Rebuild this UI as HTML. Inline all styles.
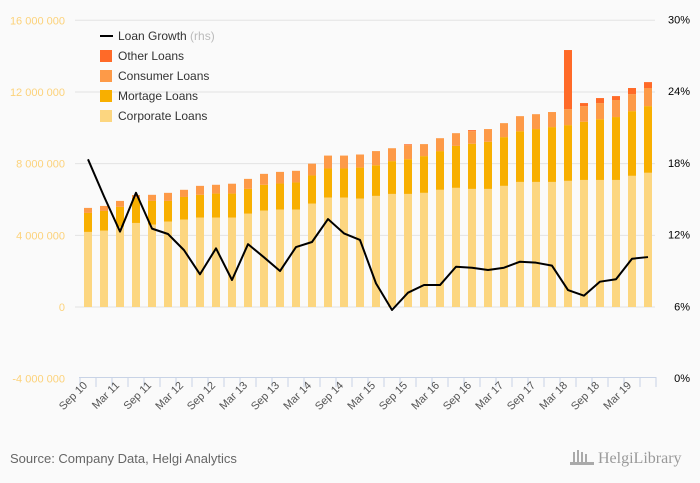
<!DOCTYPE html>
<html><head><meta charset="utf-8"><style>
body{margin:0;background:#fafafa;font-family:"Liberation Sans",sans-serif}
svg{display:block}
</style></head><body>
<svg width="700" height="483" id="c">
<rect width="700" height="483" fill="#fafafa"/>
<g id="grid"></g><g id="bars"></g><g id="axis"></g><g id="line"></g>
<g id="legend" font-size="12" fill="#333">
<line x1="100" y1="36" x2="113" y2="36" stroke="#000" stroke-width="2"/>
<text x="118" y="40">Loan Growth <tspan fill="#bbb">(rhs)</tspan></text>
<rect x="100" y="50" width="12" height="12" fill="#ff6a28"/>
<text x="118" y="60">Other Loans</text>
<rect x="100" y="70" width="12" height="12" fill="#fd9a48"/>
<text x="118" y="80">Consumer Loans</text>
<rect x="100" y="90" width="12" height="12" fill="#f8af00"/>
<text x="118" y="100">Mortage Loans</text>
<rect x="100" y="110" width="12" height="12" fill="#fcd680"/>
<text x="118" y="120">Corporate Loans</text>
</g>
<text x="10" y="463" font-size="13" fill="#666">Source: Company Data, Helgi Analytics</text>
<text x="598" y="463" font-size="16" fill="#999" font-family="Liberation Serif,serif">HelgiLibrary</text>
<g fill="#aaa"><rect x="573" y="452" width="2" height="10"/><rect x="577" y="450" width="2" height="12"/><rect x="581" y="452" width="2" height="10"/><rect x="585" y="454" width="2" height="8"/><rect x="570" y="462" width="24" height="3"/></g>
</svg>
<script>
const labels=["Sep 10","Dec 10","Mar 11","Jun 11","Sep 11","Dec 11","Mar 12","Jun 12","Sep 12","Dec 12","Mar 13","Jun 13","Sep 13","Dec 13","Mar 14","Jun 14","Sep 14","Dec 14","Mar 15","Jun 15","Sep 15","Dec 15","Mar 16","Jun 16","Sep 16","Dec 16","Mar 17","Jun 17","Sep 17","Dec 17","Mar 18","Jun 18","Sep 18","Dec 18","Mar 19","Jun 19"];
const corporate=[4.19,4.26,4.48,4.69,4.6,4.77,4.88,4.99,4.99,4.99,5.21,5.38,5.44,5.44,5.77,6.11,6.11,6.05,6.2,6.31,6.31,6.37,6.54,6.65,6.59,6.59,6.76,6.98,6.98,6.98,7.04,7.09,7.09,7.09,7.32,7.49];
const mortgage=[1.06,1.1,1.11,1.41,1.32,1.15,1.26,1.27,1.34,1.34,1.38,1.44,1.45,1.51,1.57,1.62,1.62,1.73,1.71,1.83,1.94,2.05,2.16,2.34,2.52,2.63,2.72,2.83,2.95,3.06,3.11,3.25,3.39,3.51,3.61,3.72];
const consumer=[0.28,0.28,0.33,0.15,0.34,0.45,0.4,0.5,0.49,0.55,0.56,0.61,0.65,0.65,0.66,0.72,0.72,0.73,0.79,0.72,0.78,0.67,0.72,0.71,0.7,0.71,0.78,0.84,0.83,0.84,0.89,0.87,0.9,0.95,0.95,1.01];
const other=[0,0,0,0,0,0,0,0,0,0,0,0,0,0,0,0,0,0,0,0,0.05,0,0,0,0.06,0,0,0,0,0,3.3,0.17,0.28,0.22,0.34,0.33];
const growth=[18.3,15.2,12.25,15.5,12.5,12.05,10.7,8.68,10.85,8.2,11.2,10.1,8.95,10.96,11.38,13.3,12.1,11.55,7.92,5.69,7.14,7.78,7.78,9.31,9.23,9.04,9.23,9.73,9.65,9.4,7.36,6.89,8.06,8.26,9.98,10.12];
const leftTicks=[16,12,8,4,0,-4];
const leftTickLabels=["16 000 000","12 000 000","8 000 000","4 000 000","0","-4 000 000"];
const rightTicks=[30,24,18,12,6,0];
const NS="http://www.w3.org/2000/svg";
function yL(v){return 307-v*17.92;}
function yR(p){return 378-p*11.95;}
function xC(i){return 88+i*16;}
function mk(tag,attrs,parent){const e=document.createElementNS(NS,tag);for(const k in attrs)e.setAttribute(k,attrs[k]);document.getElementById(parent).appendChild(e);return e;}
leftTicks.forEach((t,i)=>{
 if(t>-4){const g=mk('line',{x1:75,x2:655,y1:yL(t),y2:yL(t),stroke:'#e3e3e3','stroke-width':1},'grid');
 
 }
 const tx=mk('text',{x:65,y:yL(t)+4,'text-anchor':'end','font-size':11,fill:'#fcd27a'},'axis');tx.textContent=leftTickLabels[i];
 
 
});
rightTicks.forEach(p=>{
 const tx=mk('text',{x:690,y:yR(p)+4,'text-anchor':'end','font-size':11,fill:'#000'},'axis');tx.textContent=p+'%';
 
 
});
const ax=mk('line',{x1:79,x2:656,y1:377.5,y2:377.5,stroke:'#c8d3e6'},'axis');


for(let i=0;i<=labels.length;i++){const tk=mk('line',{x1:80+i*16,x2:80+i*16,y1:377,y2:387,stroke:'#c8d3e6'},'axis');
 
 }
labels.forEach((l,i)=>{
 if(i%2)return;
 const x=xC(i),y=386;
 const tx=mk('text',{x:x,y:y,'text-anchor':'end','font-size':11,fill:'#555',transform:`rotate(-45 ${x} ${y})`},'axis');tx.textContent=l;
 
 
});
const series=[[corporate,'#fcd680','corporate'],[mortgage,'#f8af00','mortgage'],[consumer,'#fd9a48','consumer'],[other,'#ff6a28','other']];
labels.forEach((l,i)=>{
 let base=0;
 series.forEach(([arr,col,nm])=>{
  const v=arr[i];if(v<=0)return;
  const r=mk('rect',{x:xC(i)-4,width:8,y:yL(base+v),height:yL(base)-yL(base+v),fill:col},'bars');
  
  
  base+=v;
 });
});
const pl=mk('polyline',{points:growth.map((g,i)=>xC(i)+','+yR(g)).join(' '),fill:'none',stroke:'#000','stroke-width':2,'stroke-linejoin':'round'},'line');


</script>
</body></html>
